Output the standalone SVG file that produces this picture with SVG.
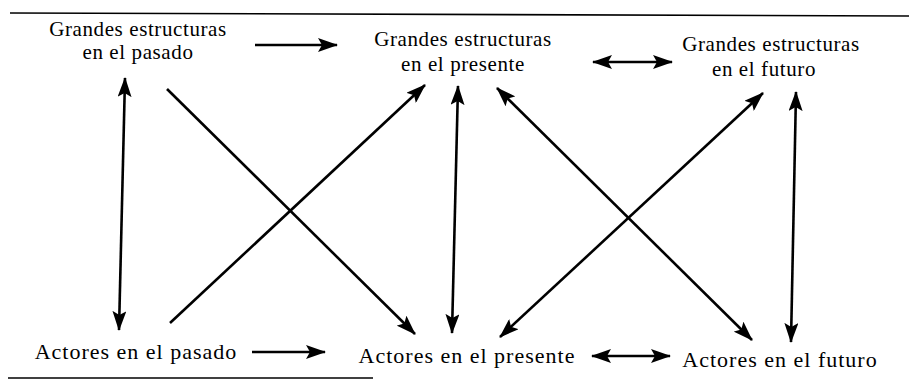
<svg xmlns="http://www.w3.org/2000/svg" width="909" height="381" viewBox="0 0 909 381">
<style>
text{font-family:"Liberation Serif","Times New Roman",serif;font-size:21px;letter-spacing:0.6px;fill:#000;text-anchor:middle}
.b{font-size:22px;letter-spacing:1px}
.c{stroke:#000;stroke-width:2.6;fill:none}
.rule{stroke:#000;stroke-width:1.6}
</style>
<defs>
<marker id="ah" viewBox="0 0 20 14" refX="19" refY="7" markerWidth="20" markerHeight="14" markerUnits="userSpaceOnUse" orient="auto-start-reverse">
<path d="M0,0 L20,7 L0,14 L4,7 Z" fill="#000"/>
</marker>
</defs>
<line class="rule" x1="10" y1="13" x2="909" y2="16"/>
<line class="rule" x1="8" y1="378" x2="373" y2="378"/>
<g id="gp"><text x="138" y="36">Grandes estructuras</text><text x="138" y="59">en el pasado</text></g>
<g id="gpr"><text x="463" y="46">Grandes estructuras</text><text x="463" y="71">en el presente</text></g>
<g id="gf"><text x="771" y="51">Grandes estructuras</text><text x="764" y="76">en el futuro</text></g>
<g id="ap"><text class="b" x="136" y="359">Actores en el pasado</text></g>
<g id="apr"><text class="b" x="467" y="363">Actores en el presente</text></g>
<g id="af"><text class="b" x="780" y="367">Actores en el futuro</text></g>
<g id="connectors">
<line class="c" x1="255" y1="45" x2="337" y2="45" marker-end="url(#ah)"/>
<line class="c" x1="593" y1="62" x2="672" y2="62" marker-start="url(#ah)" marker-end="url(#ah)"/>
<line class="c" x1="252" y1="352" x2="325" y2="352" marker-end="url(#ah)"/>
<line class="c" x1="592" y1="356" x2="670" y2="356" marker-start="url(#ah)" marker-end="url(#ah)"/>
<line class="c" x1="125" y1="78" x2="119" y2="330" marker-start="url(#ah)" marker-end="url(#ah)"/>
<line class="c" x1="458" y1="86" x2="452" y2="333" marker-start="url(#ah)" marker-end="url(#ah)"/>
<line class="c" x1="796" y1="92" x2="791" y2="342" marker-start="url(#ah)" marker-end="url(#ah)"/>
<line class="c" x1="167" y1="89" x2="415" y2="334" marker-end="url(#ah)"/>
<line class="c" x1="170" y1="323" x2="425" y2="85" marker-end="url(#ah)"/>
<line class="c" x1="497" y1="88" x2="752" y2="340" marker-start="url(#ah)" marker-end="url(#ah)"/>
<line class="c" x1="500" y1="337" x2="763" y2="93" marker-start="url(#ah)" marker-end="url(#ah)"/>
</g>
</svg>
